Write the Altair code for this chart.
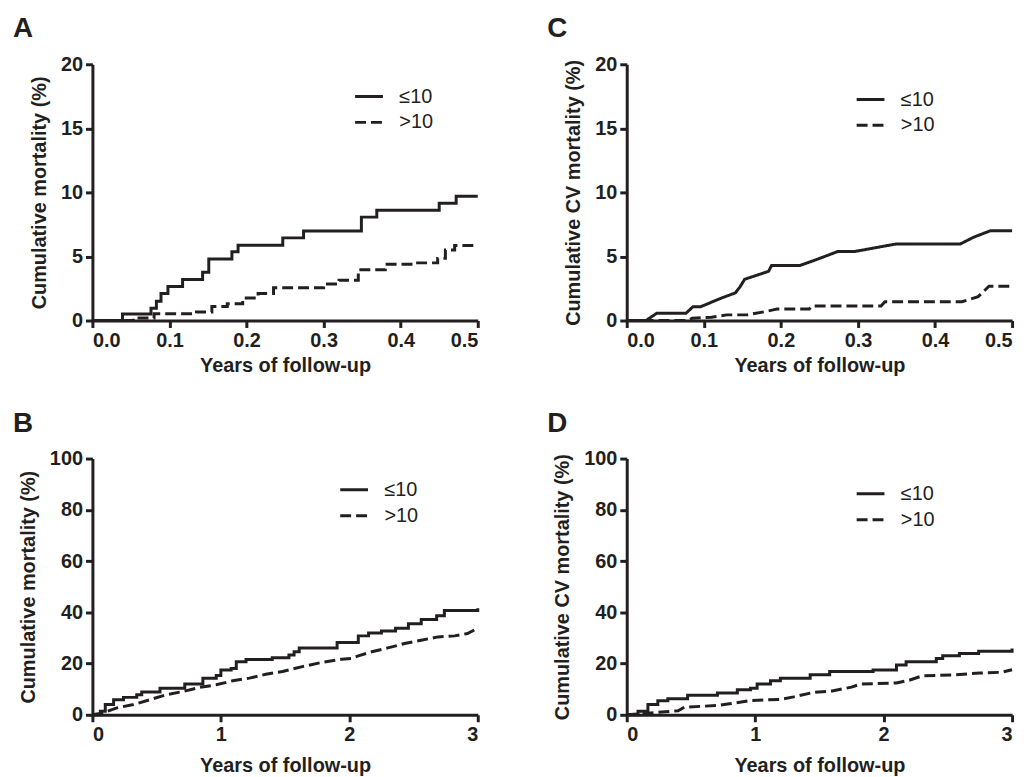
import altair as alt
import pandas as pd

INK = "#231f20"
FONT = "Liberation Sans"
GROUPS = ["≤10", ">10"]

# ---- Panel A: cumulative mortality, 0-0.5 years (step curves)
A_le_x = [0, 0.039, 0.076, 0.083, 0.089, 0.098, 0.117, 0.143, 0.151, 0.181, 0.189, 0.247, 0.274, 0.349, 0.369, 0.450, 0.472, 0.5]
A_le_y = [0, 0.50, 0.95, 1.5, 2.1, 2.65, 3.2, 3.76, 4.8, 5.36, 5.88, 6.45, 6.98, 8.07, 8.6, 9.15, 9.7, 9.7]
A_gt_x = [0, 0.053, 0.080, 0.135, 0.155, 0.175, 0.195, 0.215, 0.235, 0.300, 0.320, 0.345, 0.380, 0.420, 0.448, 0.458, 0.470, 0.5]
A_gt_y = [0, 0.2, 0.52, 0.67, 1.1, 1.3, 1.75, 2.1, 2.55, 2.85, 3.15, 3.97, 4.4, 4.5, 4.85, 5.5, 5.85, 5.85]

# ---- Panel C: cumulative CV mortality, 0-0.5 years
C_le_x = [0, 0.025, 0.039, 0.077, 0.086, 0.096, 0.122, 0.141, 0.147, 0.153, 0.184, 0.188, 0.225, 0.249, 0.274, 0.296, 0.350, 0.433, 0.450, 0.472, 0.5]
C_le_y = [0, 0, 0.57, 0.57, 1.08, 1.08, 1.73, 2.16, 2.63, 3.22, 3.84, 4.3, 4.3, 4.82, 5.39, 5.39, 5.98, 5.98, 6.5, 7.01, 7.01]
C_gt_x = [0, 0.079, 0.085, 0.110, 0.130, 0.156, 0.180, 0.190, 0.195, 0.237, 0.240, 0.330, 0.335, 0.435, 0.456, 0.470, 0.5]
C_gt_y = [0, 0, 0.18, 0.26, 0.44, 0.44, 0.7, 0.83, 0.9, 0.9, 1.13, 1.13, 1.47, 1.47, 1.86, 2.68, 2.68]

# ---- Panel B: cumulative mortality, 0-3 years
B_le_x = [0, 0.062, 0.10, 0.165, 0.242, 0.345, 0.384, 0.526, 0.719, 0.86, 0.964, 1.0, 1.08, 1.12, 1.196, 1.40, 1.53, 1.57, 1.61, 1.905, 2.07, 2.15, 2.25, 2.36, 2.46, 2.56, 2.68, 2.74, 3.0]
B_le_y = [0, 1.4, 4.0, 5.9, 6.8, 7.85, 8.9, 10.4, 12.0, 14.3, 15.3, 17.5, 18.1, 20.7, 21.6, 22.3, 23.3, 24.6, 26.1, 28.2, 30.8, 31.9, 32.7, 33.8, 35.5, 37.2, 38.7, 40.7, 41.6]
B_gt_x = [0, 0.088, 0.19, 0.32, 0.448, 0.577, 0.706, 0.835, 0.964, 1.093, 1.222, 1.35, 1.48, 1.634, 1.79, 1.94, 2.02, 2.07, 2.175, 2.30, 2.43, 2.56, 2.69, 2.82, 2.92, 3.0]
B_gt_y = [0, 0.8, 2.7, 4.0, 5.9, 7.85, 9.1, 10.7, 11.7, 13.3, 14.3, 15.8, 16.9, 18.8, 20.5, 21.7, 22.0, 23.0, 24.6, 26.1, 27.8, 29.1, 30.4, 30.8, 31.7, 33.8]

# ---- Panel D: cumulative CV mortality, 0-3 years
D_le_x = [0, 0.088, 0.165, 0.242, 0.32, 0.474, 0.706, 0.861, 0.964, 1.015, 1.119, 1.196, 1.428, 1.58, 1.918, 2.10, 2.175, 2.41, 2.46, 2.59, 2.74, 3.0]
D_le_y = [0, 1.4, 4.0, 5.5, 6.3, 7.6, 8.5, 9.8, 10.4, 12.0, 13.3, 14.3, 15.6, 16.9, 17.5, 19.4, 20.7, 22.0, 23.0, 23.9, 24.8, 25.9]
D_gt_x = [0, 0.14, 0.30, 0.40, 0.45, 0.70, 0.80, 0.97, 1.20, 1.30, 1.45, 1.60, 1.75, 1.82, 2.10, 2.20, 2.30, 2.55, 2.75, 2.92, 3.0]
D_gt_y = [0, 0.5, 1.2, 1.6, 3.0, 3.6, 4.3, 5.6, 6.0, 7.0, 8.7, 9.3, 10.8, 12.0, 12.4, 13.5, 15.2, 15.6, 16.3, 16.6, 17.6]

X_TICKS_SHORT = [0, 0.1, 0.2, 0.3, 0.4, 0.5]
X_TICKS_LONG = [0, 1, 2, 3]
Y_TICKS_20 = [0, 5, 10, 15, 20]
Y_TICKS_100 = [0, 20, 40, 60, 80, 100]

W, H = 388, 258


def panel(letter, le_x, le_y, gt_x, gt_y, interp_le, interp_gt,
          xmax, xticks, xfmt, ymax, yticks, ytitle, lx, ly, xtpad):
    df = pd.concat([
        pd.DataFrame({"x": le_x, "y": le_y, "grp": GROUPS[0]}),
        pd.DataFrame({"x": gt_x, "y": gt_y, "grp": GROUPS[1]}),
    ])
    base = alt.Chart(df).encode(
        x=alt.X("x:Q", scale=alt.Scale(domain=[0, xmax], nice=False, zero=True),
                axis=alt.Axis(values=xticks, format=xfmt, title="Years of follow-up",
                              titlePadding=xtpad)),
        y=alt.Y("y:Q", scale=alt.Scale(domain=[0, ymax], nice=False),
                axis=alt.Axis(values=yticks, format="d", title=ytitle)),
        strokeDash=alt.StrokeDash(
            "grp:N",
            scale=alt.Scale(domain=GROUPS, range=[[1, 0], [11, 5]]),
            legend=alt.Legend(
                title=None, orient="none", legendX=lx, legendY=ly,
                symbolType="stroke", symbolSize=784, symbolStrokeWidth=3,
                symbolStrokeColor=INK, labelFont=FONT, labelFontSize=20,
                labelFontWeight="normal", labelColor=INK, labelOffset=15,
                rowPadding=0, padding=0,
            ),
        ),
    )
    l1 = base.transform_filter(alt.datum.grp == GROUPS[0]).mark_line(
        color=INK, strokeWidth=3, interpolate=interp_le)
    l2 = base.transform_filter(alt.datum.grp == GROUPS[1]).mark_line(
        color=INK, strokeWidth=3, interpolate=interp_gt)
    return alt.layer(l1, l2).properties(
        width=W, height=H,
        title=alt.TitleParams(letter, anchor="start", frame="group", dx=-80,
                              offset=11, fontSize=28, fontWeight="bold",
                              font=FONT, color=INK),
    )


pA = panel("A", A_le_x, A_le_y, A_gt_x, A_gt_y, "step-after", "step-after",
           0.5, X_TICKS_SHORT, ".1f", 20, Y_TICKS_20, "Cumulative mortality (%)", 263, 17, 5)
pC = panel("C", C_le_x, C_le_y, C_gt_x, C_gt_y, "linear", "linear",
           0.5, X_TICKS_SHORT, ".1f", 20, Y_TICKS_20, "Cumulative CV mortality (%)", 230, 20, 5)
pB = panel("B", B_le_x, B_le_y, B_gt_x, B_gt_y, "step-after", "linear",
           3, X_TICKS_LONG, "d", 100, Y_TICKS_100, "Cumulative mortality (%)", 248, 16, 11)
pD = panel("D", D_le_x, D_le_y, D_gt_x, D_gt_y, "step-after", "linear",
           3, X_TICKS_LONG, "d", 100, Y_TICKS_100, "Cumulative CV mortality (%)", 230, 20, 11)

chart = alt.concat(pA, pC, pB, pD, columns=2, spacing={"row": 35, "column": 64}).resolve_scale(
    strokeDash="independent"
).resolve_legend(strokeDash="independent").configure_axis(
    grid=False,
    domainColor=INK, domainWidth=3,
    tickColor=INK, tickWidth=3, tickSize=7,
    labelFont=FONT, labelFontSize=20, labelFontWeight="bold", labelColor=INK, labelPadding=3,
    titleFont=FONT, titleFontSize=20, titleFontWeight="bold", titleColor=INK, titlePadding=5,
).configure_axisY(titlePadding=11).configure_view(stroke=None).properties(background="white")

chart.save("out.html", embed_options={"renderer": "svg", "actions": False})
